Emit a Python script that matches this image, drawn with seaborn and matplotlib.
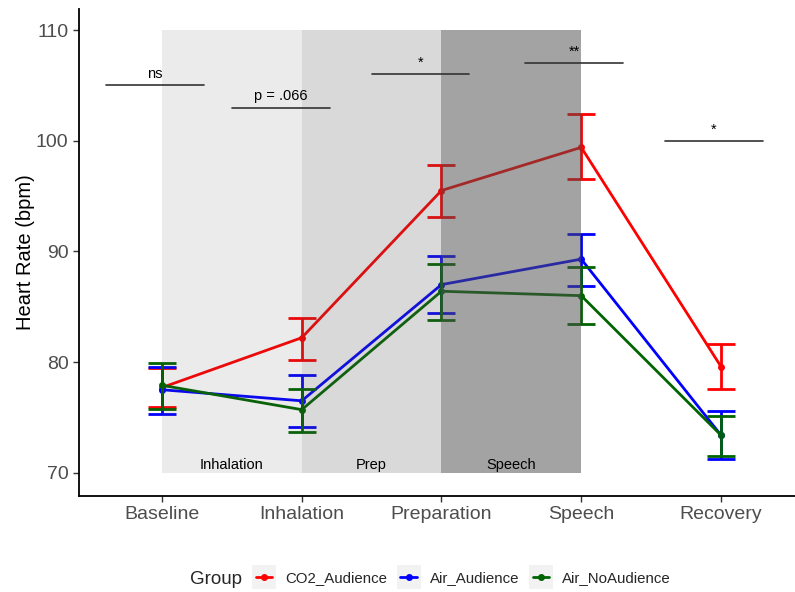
import matplotlib
matplotlib.use("Agg")
import matplotlib.pyplot as plt
import seaborn as sns
import pandas as pd
from matplotlib.lines import Line2D
from matplotlib.patches import Rectangle

# ---- data ----
phases = ["Baseline", "Inhalation", "Preparation", "Speech", "Recovery"]
groups = ["CO2_Audience", "Air_Audience", "Air_NoAudience"]
co2_mean = [77.7, 82.2, 95.5, 99.4, 79.6]
co2_lo = [75.9, 80.2, 93.1, 96.5, 77.6]
co2_hi = [79.5, 84.0, 97.8, 102.4, 81.6]
airA_mean = [77.5, 76.5, 87.0, 89.3, 73.4]
airA_lo = [75.3, 74.1, 84.4, 86.9, 71.2]
airA_hi = [79.6, 78.8, 89.6, 91.6, 75.6]
airN_mean = [77.9, 75.7, 86.4, 86.0, 73.4]
airN_lo = [75.8, 73.7, 83.8, 83.4, 71.5]
airN_hi = [79.9, 77.6, 88.9, 88.6, 75.1]
colors = ["#FF0000", "#0000FF", "#006400"]

shade_labels = ["Inhalation", "Prep", "Speech"]
shade_start = [0, 1, 2]
shade_end = [1, 2, 3]
shade_bottom = 70
shade_top = 110
shade_alpha = [0.114, 0.217, 0.526]

sig_labels = ["ns", "p = .066", "*", "**", "*"]
sig_x0 = [-0.4, 0.5, 1.5, 2.6, 3.6]
sig_x1 = [0.3, 1.2, 2.2, 3.3, 4.3]
sig_y = [105, 103, 106, 107, 100]

rows = []
for g, m, lo, hi in zip(groups, [co2_mean, airA_mean, airN_mean],
                        [co2_lo, airA_lo, airN_lo], [co2_hi, airA_hi, airN_hi]):
    for i, p in enumerate(phases):
        rows.append({"Phase": p, "idx": i, "Group": g, "HR": m[i], "lo": lo[i], "hi": hi[i]})
df = pd.DataFrame(rows)

sns.set_theme(style="ticks")
plt.rcParams["font.family"] = ["Liberation Sans", "DejaVu Sans"]

fig = plt.figure(figsize=(7.95, 5.92), dpi=100)
ax = fig.add_axes([79/795, 96/592, 1 - 79/795, (496-9)/592])

pal = dict(zip(groups, colors))
sns.lineplot(data=df, x="idx", y="HR", hue="Group", palette=pal, hue_order=groups,
             marker="o", markersize=5, markeredgewidth=0, linewidth=2.0, ax=ax,
             legend=False, zorder=3)
for g in groups:
    sub = df[df.Group == g]
    ax.errorbar(sub["idx"], sub["HR"], yerr=[sub["HR"] - sub["lo"], sub["hi"] - sub["HR"]],
                fmt="none", ecolor=pal[g], elinewidth=2.0, capsize=10, capthick=2.0, zorder=3)

for s, e, a, lab in zip(shade_start, shade_end, shade_alpha, shade_labels):
    ax.fill_between([s, e], shade_bottom, shade_top, facecolor=(80/255, 80/255, 80/255),
                    alpha=a, edgecolor="none", linewidth=0, zorder=4)
    ax.text((s + e) / 2, 70.7, lab, ha="center", va="center", fontsize=10.5, color="black", zorder=6)

for lab, x0, x1, y in zip(sig_labels, sig_x0, sig_x1, sig_y):
    ax.plot([x0, x1], [y, y], color="#333333", linewidth=1.2, zorder=5)
    ax.text((x0 + x1) / 2, y + 0.4, lab, ha="center", va="bottom", fontsize=10.5, color="black", zorder=6)

ax.set_xlim(-0.594, 4.53)
ax.set_ylim(67.9, 111.9)
ax.set_xticks(range(len(phases)))
ax.set_xticklabels(phases)
ax.set_yticks([70, 80, 90, 100, 110])
ax.tick_params(axis="both", labelsize=14, labelcolor="#4D4D4D", color="#333333",
               length=4, width=1.0)
ax.set_xlabel("")
ax.set_ylabel("Heart Rate (bpm)", fontsize=14.5, color="black", labelpad=1)
for sp in ["top", "right"]:
    ax.spines[sp].set_visible(False)
for sp in ["left", "bottom"]:
    ax.spines[sp].set_linewidth(1.3)
    ax.spines[sp].set_color("black")


class KeyHandler:
    def legend_artist(self, legend, orig_handle, fontsize, handlebox):
        x0, y0 = -handlebox.xdescent, -handlebox.ydescent
        w, h = handlebox.width, handlebox.height
        side = w
        yc = y0 + h / 2
        rect = Rectangle((x0, yc - side / 2), side, side, facecolor="#F2F2F2",
                         edgecolor="none", transform=handlebox.get_transform())
        ln = Line2D([x0 + 0.15 * w, x0 + 0.85 * w], [yc, yc], color=orig_handle.get_color(),
                    linewidth=2, transform=handlebox.get_transform())
        mk = Line2D([x0 + w / 2], [yc], color=orig_handle.get_color(), marker="o",
                    markersize=4, linewidth=0, transform=handlebox.get_transform())
        handlebox.add_artist(rect)
        handlebox.add_artist(ln)
        handlebox.add_artist(mk)
        return rect


fig.text(190/795, 1 - 580/592, "Group", fontsize=13.5, ha="left", va="center")
handles = [Line2D([], [], color=c) for c in colors]
fig.legend(handles, groups, handler_map={Line2D: KeyHandler()},
           loc="center left", bbox_to_anchor=(252/795, 1 - 578/592), ncol=3, frameon=False,
           fontsize=10.8, handlelength=1.6, handleheight=1.0, columnspacing=0.65,
           handletextpad=0.6, borderaxespad=0, borderpad=0)

fig.savefig("out.png", dpi=100)
